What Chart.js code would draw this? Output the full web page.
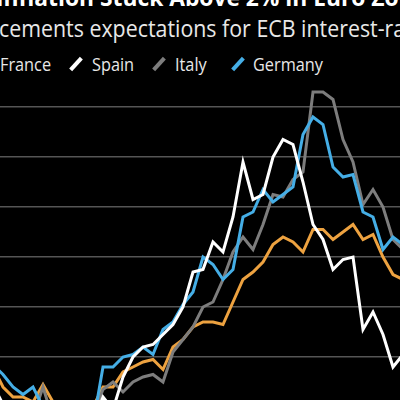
<!DOCTYPE html>
<html>
<head>
<meta charset="utf-8">
<script src="https://cdn.jsdelivr.net/npm/chart.js@4.4.1/dist/chart.umd.min.js"></script>
<style>
  html, body { margin: 0; padding: 0; background: #000; }
  #wrap { position: relative; width: 400px; height: 400px; overflow: hidden; background: #000; font-family: "Open Sans", sans-serif; color: #fff; }
  #title { position: absolute; top: -15px; left: 0; font-size: 24px; line-height: 24px; font-weight: 700; white-space: nowrap; transform: scaleX(0.95); transform-origin: 0 0; }
  #subtitle { position: absolute; top: 16px; left: -1px; font-size: 24px; line-height: 24px; white-space: nowrap; color: #e8e8e8; transform: scaleX(0.89); transform-origin: 0 0; }
  .legend-item { position: absolute; top: 52px; height: 24px; font-size: 18.5px; line-height: 24px; color: #e8e8e8; white-space: nowrap; }
  .legend-item span { display: inline-block; transform: scaleX(0.88); transform-origin: 0 50%; }
  .legend-mark { position: absolute; top: 56px; width: 4px; height: 16px; transform: rotate(42deg); }
  #chartBox { position: absolute; left: 0; top: 82px; width: 400px; height: 318px; }
</style>
</head>
<body>
<div id="wrap">
  <div id="title"><span>Inflation </span><span id="titleRest">Stuck Above 2% in Euro Zone</span></div>
  <div id="subtitle">cements expectations for ECB interest-rate cuts</div>
  <div id="legend"></div>
  <div id="chartBox"><canvas id="inflationChart" width="400" height="318"></canvas></div>
</div>
<script>
// monthly HICP, Feb 2020 - Jul 2023
const months = [
  'Feb 2020', 'Mar 2020', 'Apr 2020', 'May 2020', 'Jun 2020', 'Jul 2020', 'Aug 2020', 'Sep 2020', 'Oct 2020', 'Nov 2020', 'Dec 2020',
  'Jan 2021', 'Feb 2021', 'Mar 2021', 'Apr 2021', 'May 2021', 'Jun 2021', 'Jul 2021', 'Aug 2021', 'Sep 2021', 'Oct 2021', 'Nov 2021', 'Dec 2021',
  'Jan 2022', 'Feb 2022', 'Mar 2022', 'Apr 2022', 'May 2022', 'Jun 2022', 'Jul 2022', 'Aug 2022', 'Sep 2022', 'Oct 2022', 'Nov 2022', 'Dec 2022',
  'Jan 2023', 'Feb 2023', 'Mar 2023', 'Apr 2023', 'May 2023', 'Jun 2023', 'Jul 2023'
]
const france = [
  1.6, 0.8, 0.4, 0.4, 0.2, 0.9, 0.2, 0.0, 0.1, 0.2, 0.0,
  0.8, 0.8, 1.4, 1.6, 1.8, 1.9, 1.5, 2.4, 2.7, 3.2, 3.4, 3.4,
  3.3, 4.2, 5.1, 5.4, 5.8, 6.5, 6.8, 6.6, 6.2, 7.1, 7.1, 6.7,
  7.0, 7.3, 6.7, 6.9, 6.0, 5.3, 5.1
]
const spain = [
  0.9, 0.1, -0.7, -0.9, -0.3, -0.7, -0.6, -0.6, -0.9, -0.8, -0.6,
  0.4, -0.1, 1.2, 2.0, 2.4, 2.5, 2.9, 3.3, 4.0, 5.4, 5.5, 6.6,
  6.2, 7.6, 9.8, 8.3, 8.5, 10.0, 10.7, 10.5, 9.0, 7.3, 6.7, 5.5,
  5.9, 6.0, 3.1, 3.8, 2.9, 1.6, 2.1
]
const italy = [
  0.2, 0.1, 0.1, -0.3, -0.4, 0.8, -0.5, -1.0, -0.6, -0.3, -0.3,
  0.7, 1.0, 0.6, 1.0, 1.2, 1.3, 1.0, 2.2, 2.7, 3.2, 4.0, 4.2,
  5.1, 6.2, 6.8, 6.3, 7.3, 8.5, 8.4, 9.1, 9.4, 12.6, 12.6, 12.3,
  10.7, 9.8, 8.1, 8.7, 8.0, 6.7, 6.3
]
const germany = [
  1.7, 1.3, 0.8, 0.5, 0.8, 0.0, -0.1, -0.4, -0.5, -0.7, -0.7,
  1.6, 1.6, 2.0, 2.1, 2.4, 2.1, 3.1, 3.4, 4.1, 4.6, 6.0, 5.7,
  5.1, 5.5, 7.6, 7.8, 8.7, 8.2, 8.5, 8.8, 10.9, 11.6, 11.3, 9.6,
  9.2, 9.3, 7.8, 7.6, 6.3, 6.8, 6.5
]
const gridValues = [2, 4, 6, 8, 10, 12]

const legendNames = ['France', 'Spain', 'Italy', 'Germany']
const colors = { France: '#eda240', Spain: '#ffffff', Italy: '#7d7d7d', Germany: '#45aee6' }
const legendTextX = [0, 92, 175, 253]
const legendMarkX = [-14, 74, 157, 236]

window.addEventListener('load', function () {
    // title is cropped in the reference, line "Stuck" up at x=100
    const title = document.getElementById('title')
    const shift = 100 - document.getElementById('titleRest').getBoundingClientRect().left
    title.style.left = shift + 'px'

    const legend = document.getElementById('legend')
    legendNames.forEach((name, i) => {
        const mark = document.createElement('div')
        mark.className = 'legend-mark'
        mark.style.left = legendMarkX[i] + 'px'
        mark.style.background = colors[name]
        legend.appendChild(mark)
        const item = document.createElement('div')
        item.className = 'legend-item'
        item.style.left = legendTextX[i] + 'px'
        item.innerHTML = `<span>${name}</span>`
        legend.appendChild(item)
    })

    const toPoints = values => values.map((v, i) => ({ x: i, y: v }))
    const series = [
        { label: 'Spain', values: spain, order: 0 },
        { label: 'Germany', values: germany, order: 1 },
        { label: 'Italy', values: italy, order: 2 },
        { label: 'France', values: france, order: 3 }
    ]

    const ctx = document.getElementById('inflationChart').getContext('2d')
    new Chart(ctx, {
        type: 'line',
        data: {
            datasets: series.map(s => ({
                label: s.label,
                data: toPoints(s.values),
                borderColor: colors[s.label],
                borderWidth: 3,
                pointRadius: 0,
                tension: 0,
                order: s.order
            }))
        },
        options: {
            responsive: false,
            animation: false,
            layout: { padding: 0 },
            plugins: { legend: { display: false }, tooltip: { enabled: false } },
            scales: {
                x: { type: 'linear', min: 0.7, max: 40.7, display: false },
                y: {
                    min: 0.28,
                    max: 13,
                    afterBuildTicks: scale => { scale.ticks = gridValues.map(v => ({ value: v })) },
                    ticks: { display: false },
                    border: { display: false },
                    grid: { color: '#555555', lineWidth: 1.6, drawTicks: false }
                }
            }
        }
    })
})
</script>
</body>
</html>
